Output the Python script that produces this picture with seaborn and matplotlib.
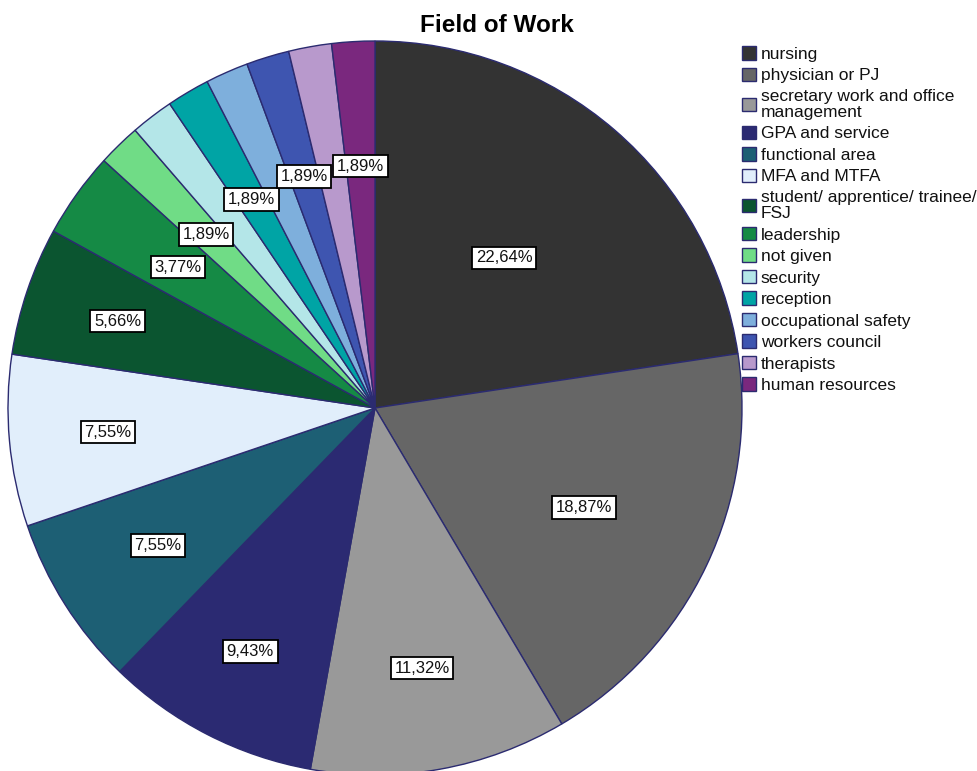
import matplotlib
matplotlib.use("Agg")
import matplotlib.pyplot as plt
from matplotlib.patches import Patch
import numpy as np
import seaborn as sns

# Field of work, share of respondents in percent
categories = [
    "nursing",
    "physician or PJ",
    "secretary work and office\nmanagement",
    "GPA and service",
    "functional area",
    "MFA and MTFA",
    "student/ apprentice/ trainee/\nFSJ",
    "leadership",
    "not given",
    "security",
    "reception",
    "occupational safety",
    "workers council",
    "therapists",
    "human resources",
]
shares = [22.64, 18.87, 11.32, 9.43, 7.55, 7.55, 5.66, 3.77,
          1.89, 1.89, 1.89, 1.89, 1.89, 1.89, 1.89]
colors = [
    "#333333", "#666666", "#999999", "#2b2a72", "#1d5f74",
    "#e1eefb", "#0b5530", "#158a45", "#70dc86", "#b4e6e8",
    "#00a4a5", "#7eafdc", "#3e55b0", "#b899cc", "#7a287e",
]
# which slices carry a percentage label (crowded thin slices are skipped)
label_shown = [True, True, True, True, True, True, True, True,
               True, False, True, False, True, False, True]
# radial placement of each label as a fraction of the radius
label_dist = [0.54, 0.63, 0.72, 0.745, 0.70, 0.73, 0.74, 0.66,
              0.66, 0.66, 0.66, 0.66, 0.66, 0.66, 0.66]

sns.set_theme(style="white")
plt.rcParams["font.family"] = ["Liberation Sans", "DejaVu Sans"]

W, H = 977, 771
fig = plt.figure(figsize=(W / 100, H / 100), dpi=100)
fig.patch.set_facecolor("white")
ax = fig.add_axes([0, 0, 1, 1])

cx, cy, R = 375, H - 408, 367
edge = "#2b2b70"
wedges, _ = ax.pie(
    shares, colors=colors, startangle=90, counterclock=False,
    center=(cx, cy), radius=R,
    wedgeprops=dict(edgecolor=edge, linewidth=1.0),
)
ax.set_xlim(0, W)
ax.set_ylim(0, H)
ax.set_aspect("equal")
ax.axis("off")

for w, v, show, d in zip(wedges, shares, label_shown, label_dist):
    if not show:
        continue
    ang = np.deg2rad((w.theta1 + w.theta2) / 2)
    x = cx + d * R * np.cos(ang)
    y = cy + d * R * np.sin(ang)
    ax.text(x, y, f"{v:.2f}%".replace(".", ","), ha="center", va="center",
            fontsize=12, color="#111111",
            bbox=dict(boxstyle="square,pad=0.22", fc="white", ec="black", lw=1.3))

fig.text(497 / W, 1 - 25 / H, "Field of Work", ha="center", va="center",
         fontsize=17.5, fontweight="bold", color="black")

handles = [Patch(facecolor=c, edgecolor=edge, linewidth=1.0) for c in colors]
leg = ax.legend(handles, categories, loc="upper left",
                bbox_to_anchor=(742 / W, 1 - 46 / H), bbox_transform=fig.transFigure,
                frameon=False, fontsize=12.5, handlelength=0.82, handleheight=0.82,
                handletextpad=0.25, labelspacing=0.33, borderpad=0, borderaxespad=0)
for t in leg.get_texts():
    t.set_linespacing(1.08)
    t.set_color("#111111")

fig.savefig("out.png", dpi=100)
